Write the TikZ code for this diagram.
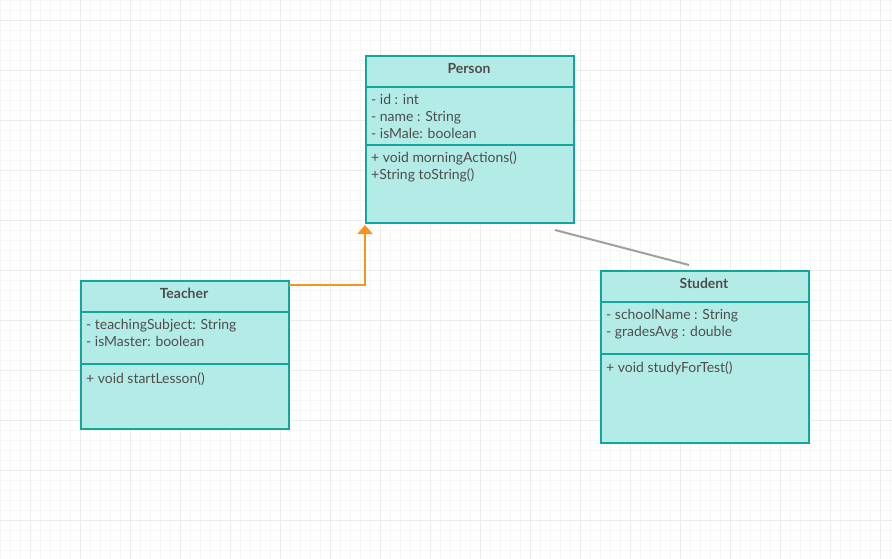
\documentclass[tikz,border=0pt]{standalone}
\usepackage{fontspec}
\setmainfont{Lato}
\usetikzlibrary{arrows.meta}
\definecolor{gridminor}{RGB}{246,246,246}
\definecolor{gridmajor}{RGB}{236,236,236}
\definecolor{classfill}{RGB}{179,235,231}
\definecolor{classline}{RGB}{16,168,156}
\definecolor{classtext}{RGB}{77,77,77}
\definecolor{inheritance}{RGB}{247,147,30}
\definecolor{association}{RGB}{160,160,160}

\begin{document}
\begin{tikzpicture}[x=1bp,y=-1bp,
  classbox/.style={draw=classline, fill=classfill, line width=2bp, rectangle,
    inner sep=0pt, outer sep=0pt, anchor=north west, minimum width=208bp},
  divider/.style={draw=classline, line width=2bp},
  classname/.style={font=\fontsize{14}{17}\selectfont\bfseries, text=classtext,
    anchor=base, inner sep=0pt},
  member/.style={font=\fontsize{14}{17}\selectfont, text=classtext,
    anchor=base west, inner sep=0pt},
  generalization/.style={draw=inheritance, line width=2bp,
    -{Triangle[width=15bp,length=9bp]}},
  associationline/.style={draw=association, line width=2bp},
]
\useasboundingbox (0,0) rectangle (892,559);
\fill[white] (0,0) rectangle (892,559);

% background grid
\foreach \x in {0,10,...,890} \draw[gridminor, line width=1bp] (\x+0.5,0) -- (\x+0.5,559);
\foreach \y in {0,10,...,550} \draw[gridminor, line width=1bp] (0,\y+0.5) -- (892,\y+0.5);
\foreach \x in {30,80,...,880} \draw[gridmajor, line width=1bp] (\x+0.5,0) -- (\x+0.5,559);
\foreach \y in {20,70,...,520} \draw[gridmajor, line width=1bp] (0,\y+0.5) -- (892,\y+0.5);

% Person
\node[classbox, minimum height=167bp] (person) at (366,56) {};
\draw[divider] (366,87) -- (574,87);
\draw[divider] (366,145) -- (574,145);
\node[classname] (person-name) at (469,74) {Person};
\node[member] (person-a1) at (371,105) {- id : int};
\node[member] (person-a2) at (371,122) {- name : String};
\node[member] (person-a3) at (371,139) {- isMale: boolean};
\node[member] (person-m1) at (371,163) {+ void morningActions()};
\node[member] (person-m2) at (371,180) {+String toString()};

% Teacher
\node[classbox, minimum height=148bp] (teacher) at (81,281) {};
\draw[divider] (81,312) -- (289,312);
\draw[divider] (81,364) -- (289,364);
\node[classname] (teacher-name) at (184,299) {Teacher};
\node[member] (teacher-a1) at (86,330) {- teachingSubject: String};
\node[member] (teacher-a2) at (86,347) {- isMaster: boolean};
\node[member] (teacher-m1) at (86,383) {+ void startLesson()};

% Student
\node[classbox, minimum height=172bp] (student) at (601,271) {};
\draw[divider] (601,302) -- (809,302);
\draw[divider] (601,354) -- (809,354);
\node[classname] (student-name) at (704,289) {Student};
\node[member] (student-a1) at (606,320) {- schoolName : String};
\node[member] (student-a2) at (606,337) {- gradesAvg : double};
\node[member] (student-m1) at (606,372) {+ void studyForTest()};

% relations
\draw[generalization] ([shift={(0,4)}]teacher.north east) -| ([shift={(-1,2)}]person.south west);
\draw[associationline] ([shift={(-19,7)}]person.south east) -- ([shift={(88,-6)}]student.north west);
\end{tikzpicture}
\end{document}
